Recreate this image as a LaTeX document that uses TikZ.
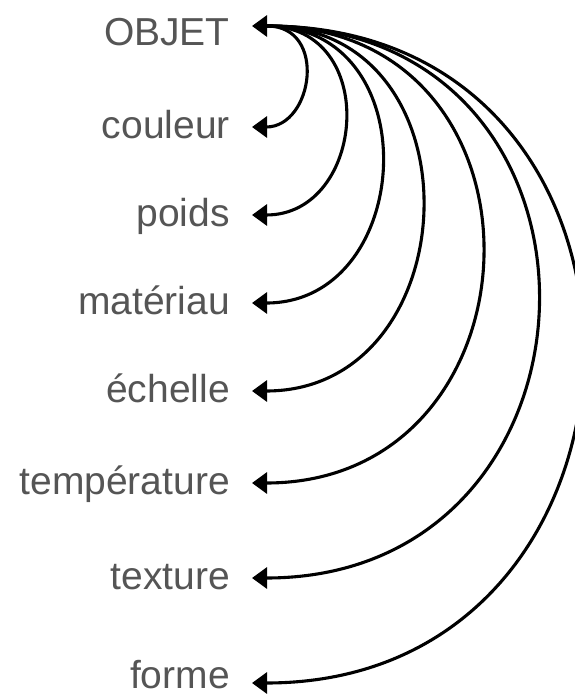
\documentclass[tikz,border=0pt]{standalone}
\usepackage{fontspec}
\setmainfont{Liberation Sans}
\usetikzlibrary{arrows.meta}
\definecolor{txt}{HTML}{555555}
\begin{document}
\begin{tikzpicture}[x=1pt,y=-1pt,
  lbl/.style={font=\fontsize{39}{39}\selectfont, text=txt, inner sep=0pt, anchor=base east},
  tipstyle/.style={-{Triangle[length=15pt,width=21pt]}},
  link/.style={line width=3.1pt, tipstyle}]
\useasboundingbox (0,0) rectangle (574,698);
% labels
\node[lbl] (n0) at (230,46) {OBJET};
\node[lbl] (n1) at (230,138) {couleur};
\node[lbl] (n2) at (230,226) {poids};
\node[lbl] (n3) at (230,314) {matériau};
\node[lbl] (n4) at (230,402) {échelle};
\node[lbl] (n5) at (230,494) {température};
\node[lbl] (n6) at (230,589) {texture};
\node[lbl] (n7) at (230,688) {forme};
% arrow tips
\coordinate (t0) at (252,26);
\coordinate (s) at (267,26);
\coordinate (t1) at (252,127);
\coordinate (t2) at (252,215);
\coordinate (t3) at (252,303);
\coordinate (t4) at (252,391);
\coordinate (t5) at (252,483);
\coordinate (t6) at (252,578);
\coordinate (t7) at (252,683);
% connectors
\draw[link] (s) .. controls +(61,0) and +(61,0) .. (t1);
\draw[link] (s) .. controls +(114,0) and +(114,0) .. (t2);
\draw[link] (s) .. controls +(163,0) and +(163,0) .. (t3);
\draw[link] (s) .. controls +(217,0) and +(217,0) .. (t4);
\draw[link] (s) .. controls +(297,0) and +(297,0) .. (t5);
\draw[link] (s) .. controls +(371,0) and +(371,0) .. (t6);
\draw[link] (s) .. controls +(430,0) and +(430,0) .. (t7);
\draw[link] (s) -- (t0);
\end{tikzpicture}
\end{document}
